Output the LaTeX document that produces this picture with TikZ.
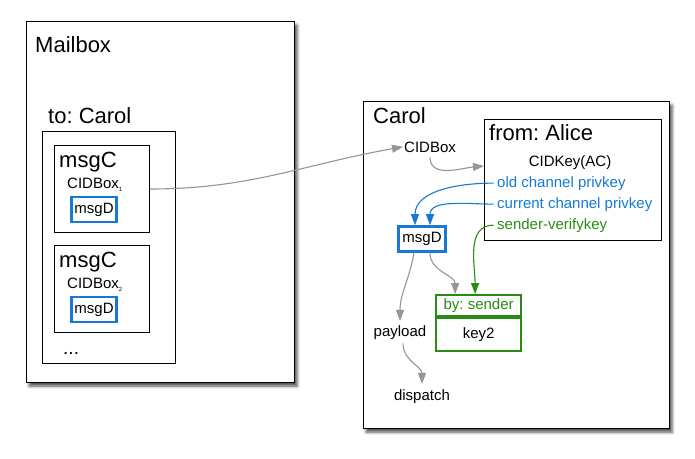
\documentclass[tikz,border=0pt]{standalone}
\usepackage{fontspec}
\setmainfont{Liberation Sans}
\usetikzlibrary{arrows.meta,shadows.blur}

\definecolor{keyblue}{RGB}{22,122,212}
\definecolor{signgreen}{RGB}{40,140,20}
\definecolor{flowgray}{RGB}{150,150,150}
\newcommand{\bigsize}{\fontsize{22pt}{26pt}\selectfont}
\newcommand{\smallsize}{\fontsize{15pt}{18pt}\selectfont}
\newcommand{\idx}[1]{\raisebox{-3pt}{\fontsize{6pt}{6pt}\selectfont #1}}
\frenchspacing

\begin{document}
\begin{tikzpicture}[
  x=1pt, y=-1pt,
  panel/.style={
  	draw=black,
  	fill=white,
  	line width=1.3pt,
  	anchor=north west,
  	inner sep=0pt,
  	blur shadow={shadow xshift=2.5pt,shadow yshift=-3.5pt,shadow blur radius=3pt,shadow opacity=70}
  },
  box/.style={
  	draw=black,
  	line width=1pt,
  	anchor=north west,
  	inner sep=0pt
  },
  keybox/.style={
  	draw=keyblue,
  	line width=2.6pt,
  	fill=white,
  	font=\smallsize,
  	inner sep=0pt
  },
  sigbox/.style={
  	draw=signgreen,
  	line width=2.2pt,
  	fill=white,
  	font=\smallsize,
  	minimum width=85pt,
  	inner sep=0pt
  },
  title/.style={
  	font=\bigsize,
  	anchor=base west,
  	inner sep=0pt
  },
  txt/.style={
  	font=\smallsize,
  	inner sep=0pt
  },
  keyline/.style={
  	font=\smallsize,
  	anchor=base west,
  	inner xsep=3.5pt,
  	inner ysep=0pt
  },
  flow/.style={
  	-{Triangle[length=11pt,width=8pt]},
  	draw=flowgray,
  	line width=1.1pt
  },
  keyflow/.style={
  	flow,
  	draw=keyblue
  },
  signflow/.style={
  	flow,
  	draw=signgreen
  }
  ]
  \useasboundingbox (0,0) rectangle (695,458);

  % mailbox
  \node[panel, minimum width=268pt, minimum height=361pt] (mailbox) at (26,21) {};
  \node[title] (mailboxname) at (35,52) {Mailbox};
  \node[title] (tocarol) at (48,123) {to: Carol};
  \node[box, minimum width=133pt, minimum height=232pt] (queue) at (42,131) {};
  \foreach \i/\y in {1/145,2/245} {
    \node[box, minimum width=95pt, minimum height=87pt] (msgc\i) at (54,\y) {};
    \node[title] (msgcname\i) at (59,\y+22) {msgC};
    \node[txt, anchor=base west] (cidbox\i) at (67,\y+43) {CIDBox\idx{\i}};
    \node[keybox, minimum width=45pt, minimum height=25pt] (msgd\i) at (94,\y+64.5) {msgD};
  }
  \node[txt, anchor=base west, font=\fontsize{19pt}{20pt}\selectfont] (more) at (63,354) {...};

  % carol
  \node[panel, minimum width=306pt, minimum height=327pt] (carol) at (363,101) {};
  \node[title] (carolname) at (373,123) {Carol};
  \node[txt, anchor=base west, inner xsep=1pt, inner ysep=5pt] (cidbox) at (403,152) {CIDBox};
  \node[box, minimum width=177pt, minimum height=121pt] (fromalice) at (484,119) {};
  \node[title] (fromalicename) at (489,140) {from: Alice};
  \node[txt, anchor=base] (cidkey) at (570,166) {CIDKey(AC)};
  \node[keyline, text=keyblue] (oldkey) at (493.5,187) {old channel privkey};
  \node[keyline, text=keyblue] (curkey) at (493.5,208) {current channel privkey};
  \node[keyline, text=signgreen] (verkey) at (493.5,229) {sender-verifykey};
  \node[keybox, minimum width=47pt, minimum height=25pt] (msgd) at (422,239) {msgD};
  \node[sigbox, minimum height=21pt, anchor=north west, text=signgreen] (byhead) at (435,294) {by: sender};
  \node[sigbox, minimum height=33pt, anchor=north] (bykey) at (byhead.south) {key2};
  \node[txt, anchor=base, inner ysep=4pt] (payload) at (400,336) {payload};
  \node[txt, anchor=base, inner ysep=5pt] (dispatch) at (422,400) {dispatch};

  \draw[flow] (msgc1.east) to[out=0,in=190] (cidbox.west);
  \draw[flow] (cidbox.south) to[out=-90,in=185] ([yshift=14pt]fromalice.west);
  \draw[keyflow] (oldkey.west) to[out=180,in=90] ([xshift=-7pt]msgd.north);
  \draw[keyflow] (curkey.west) to[out=180,in=90] ([xshift=8pt]msgd.north);
  \draw[signflow] (verkey.west) to[out=180,in=90] ([xshift=-3.5pt]byhead.north);
  \draw[flow] ([xshift=-8pt]msgd.south) to[out=-100,in=90] (payload.north);
  \draw[flow] ([xshift=8pt]msgd.south) to[out=-90,in=90] ([xshift=-23.5pt]byhead.north);
  \draw[flow] ([xshift=3pt]payload.south) to[out=-90,in=90] (dispatch.north);

\end{tikzpicture}
\end{document}
